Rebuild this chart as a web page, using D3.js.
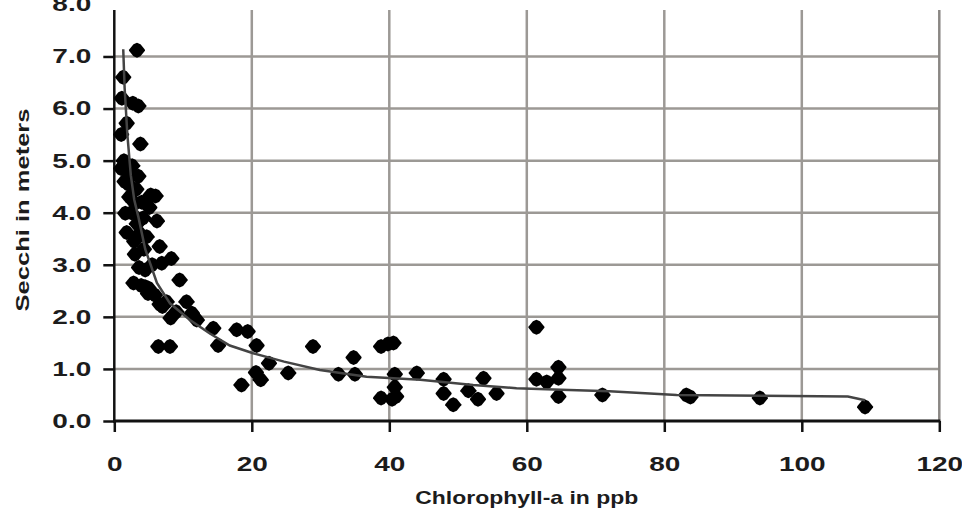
<!DOCTYPE html>
<html><head><meta charset="utf-8">
<script src="https://cdn.jsdelivr.net/npm/d3@7"></script>
<style>
body{margin:0;background:#fff}
svg{display:block}
text{font-family:"Liberation Sans",Arial,sans-serif;font-weight:bold;fill:#1c1c1c}
</style>
</head><body><svg width="962" height="521"></svg>
<script>
const chlorophyll = [3.3,1.3,1.1,2.7,3.5,1.8,1.0,3.8,1.4,1.0,2.3,3.5,2.0,5.3,6.0,2.2,3.0,4.0,1.6,6.2,3.3,1.8,3.7,4.7,6.6,3.0,8.3,6.9,3.6,4.5,9.5,2.8,4.5,5.9,7.6,10.5,6.6,11.3,8.2,12.0,14.4,17.8,19.4,6.4,8.1,15.1,20.7,22.5,20.6,21.3,18.5,25.3,28.9,32.6,34.8,35.0,38.8,39.8,40.6,40.8,40.8,38.8,40.4,41.0,44.0,47.9,47.9,49.3,51.5,52.9,53.7,55.6,61.4,61.4,62.9,64.6,64.6,64.6,71.0,83.2,83.8,93.9,109.2,5.2,2.5,4.2,5.0,2.6,3.2,4.3,5.5,3.9,4.9,7.0,9.0,2.9,5.1,1.5];
const secchi = [7.12,6.6,6.2,6.1,6.05,5.72,5.5,5.32,5.0,4.85,4.7,4.7,4.55,4.34,4.32,4.3,4.18,4.2,3.99,3.84,3.79,3.62,3.6,3.54,3.35,3.2,3.12,3.03,2.95,2.9,2.71,2.65,2.58,2.42,2.29,2.29,2.24,2.07,1.98,1.94,1.78,1.75,1.72,1.43,1.43,1.45,1.45,1.11,0.93,0.79,0.69,0.92,1.43,0.9,1.22,0.9,1.43,1.48,1.5,0.9,0.65,0.44,0.42,0.47,0.92,0.8,0.53,0.31,0.58,0.42,0.82,0.53,1.8,0.8,0.75,1.03,0.82,0.47,0.5,0.5,0.46,0.44,0.27,2.48,4.0,3.9,2.55,4.9,4.45,3.3,3.0,2.6,2.45,2.2,2.1,3.45,4.1,4.6];
const trendX = [1.3,1.5,1.9,2.4,2.9,3.5,4.5,6.2,8.1,11,13.9,16.8,20.2,24.7,29.9,36.7,44.5,52.2,58.5,65,72,81.8,106.7,109.2];
const trendY = [7.14,6.4,5.5,4.72,4.25,3.92,3.3,2.65,2.26,1.94,1.68,1.45,1.3,1.14,0.98,0.85,0.79,0.69,0.63,0.6,0.57,0.5,0.47,0.40];
const xTicks = [0,20,40,60,80,100,120];
const yTicks = [0,1,2,3,4,5,6,7,8];
const xTitle = "Chlorophyll-a in ppb";
const yTitle = "Secchi in meters";

const svg = d3.select("svg");
const x = d3.scaleLinear().domain([0,120]).range([114.3,939.3]);
const y = d3.scaleLinear().domain([0,8]).range([421,4.4]);
const plotTop = 10;
const gridColor = "#9c9995";

// grid
svg.append("g").selectAll("line").data(yTicks.filter(t => t > 0 && y(t) >= plotTop))
  .join("line").attr("x1", x(0)).attr("x2", x(120)).attr("y1", d => y(d)).attr("y2", d => y(d))
  .attr("stroke", gridColor).attr("stroke-width", 2.5);
svg.append("g").selectAll("line").data(xTicks.filter(t => t > 0))
  .join("line").attr("x1", d => x(d)).attr("x2", d => x(d)).attr("y1", plotTop).attr("y2", y(0))
  .attr("stroke", d => d === 120 ? "#8a8784" : gridColor).attr("stroke-width", 2.5);

// y axis
const yAxis = svg.append("g").attr("transform", `translate(${x(0)},0)`)
  .call(d3.axisLeft(y).tickValues(yTicks).tickSize(11).tickPadding(12).tickFormat(d3.format(".1f")));
yAxis.select(".domain").remove();
yAxis.selectAll(".tick line").attr("stroke", "#111").attr("stroke-width", 2.5)
  .filter(d => y(d) < plotTop).remove();
yAxis.selectAll(".tick text").attr("font-size", 20).attr("dy", "0.32em").attr("fill", "#1c1c1c");

// x axis
const xAxis = svg.append("g").attr("transform", `translate(0,${y(0)})`)
  .call(d3.axisBottom(x).tickValues(xTicks).tickSize(11).tickPadding(25).tickFormat(d3.format("d")));
xAxis.select(".domain").remove();
xAxis.selectAll(".tick line").attr("stroke", "#111").attr("stroke-width", 2.5);
xAxis.selectAll(".tick text").attr("font-size", 20).attr("fill", "#1c1c1c");

svg.selectAll(".tick text").attr("font-family", '"Liberation Sans",Arial,sans-serif').attr("font-weight", "bold")
  .each(function(){ const w = this.getComputedTextLength(); d3.select(this).attr("textLength", w*1.4).attr("lengthAdjust","spacingAndGlyphs"); });

// axis lines
svg.append("line").attr("x1", x(0)).attr("x2", x(0)).attr("y1", plotTop).attr("y2", y(0)+1.5)
  .attr("stroke", "#111").attr("stroke-width", 2.5);
svg.append("line").attr("x1", x(0)-1).attr("x2", x(120)+1).attr("y1", y(0)).attr("y2", y(0))
  .attr("stroke", "#111").attr("stroke-width", 3);

// points
const pts = chlorophyll.map((c, i) => [c, secchi[i]]);
svg.append("g").selectAll("path").data(pts).join("path")
  .attr("transform", d => `translate(${x(d[0])},${y(d[1])})`)
  .attr("d", "M0,-7.5L3.5,-6L8,-0.5L8,0.5L3.5,6L0,7.5L-3.5,6L-8,0.5L-8,-0.5L-3.5,-6Z").attr("fill", "#000");

// trend line
const trend = trendX.map((t, i) => [t, trendY[i]]);
svg.append("path").datum(trend)
  .attr("d", d3.line().x(d => x(d[0])).y(d => y(d[1])))
  .attr("fill", "none").attr("stroke", "#444").attr("stroke-width", 2.5);

// titles
svg.append("text").attr("x", (x(0)+x(120))/2).attr("y", 504).attr("text-anchor", "middle")
  .attr("font-size", 19).attr("textLength", 223).attr("lengthAdjust", "spacingAndGlyphs").text(xTitle);
svg.append("text").attr("transform", `translate(29,210) rotate(-90)`).attr("text-anchor", "middle")
  .attr("font-size", 19).attr("textLength", 203).attr("lengthAdjust", "spacingAndGlyphs").text(yTitle);
</script>
</body></html>
